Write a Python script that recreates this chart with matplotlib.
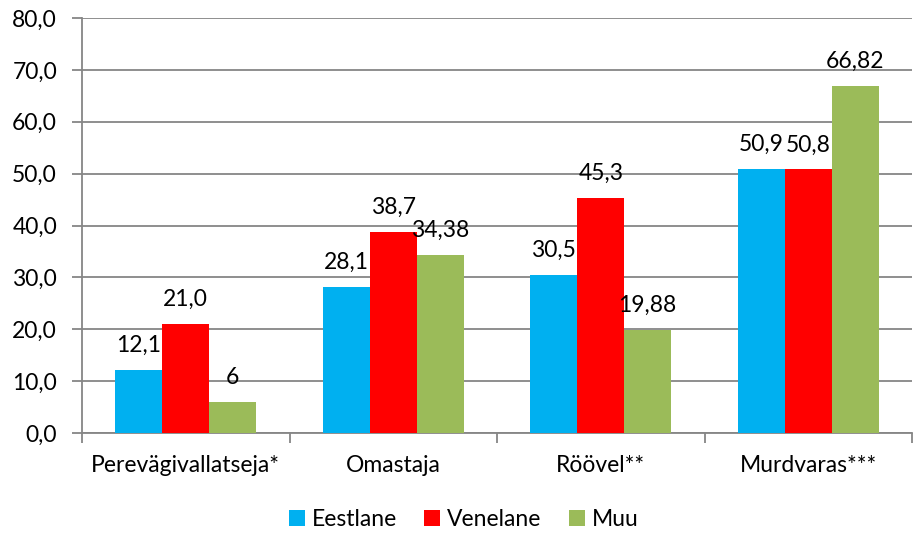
import matplotlib
matplotlib.use("Agg")
import matplotlib.pyplot as plt
import numpy as np

plt.rcParams['font.family'] = ['Lato', 'DejaVu Sans']

categories = ["Perevägivallatseja*", "Omastaja", "Röövel**", "Murdvaras***"]
series = ["Eestlane", "Venelane", "Muu"]
eestlane = [12.1, 28.1, 30.5, 50.9]
venelane = [21.0, 38.7, 45.3, 50.8]
muu = [6, 34.38, 19.88, 66.82]
eestlane_lbl = ["12,1", "28,1", "30,5", "50,9"]
venelane_lbl = ["21,0", "38,7", "45,3", "50,8"]
muu_lbl = ["6", "34,38", "19,88", "66,82"]
colors = ["#00B0F0", "#FF0000", "#9BBB59"]
yticks = np.arange(0, 81, 10)

fs = 16.5

fig = plt.figure(figsize=(9.13, 5.35), dpi=100)
ax = fig.add_axes([82 / 913, 102 / 535, 830 / 913, 415 / 535])

x = np.arange(len(categories))
w = 0.226
data = [eestlane, venelane, muu]
labels = [eestlane_lbl, venelane_lbl, muu_lbl]
for k, (vals, lbls) in enumerate(zip(data, labels)):
    pos = x + (k - 1) * w
    ax.bar(pos, vals, w, color=colors[k], label=series[k], zorder=3)
    for p, v, t in zip(pos, vals, lbls):
        ax.annotate(t, (p, v), xytext=(0, 13), textcoords="offset points",
                    ha="center", va="baseline", fontsize=fs, color="#000000")

ax.set_xlim(-0.5, 3.5)
ax.set_ylim(0, 80)
ax.set_yticks(yticks)
ax.set_yticklabels([f"{v:.1f}".replace(".", ",") for v in yticks])
ax.set_xticks(x)
ax.set_xticklabels(categories)
ax.set_xticks(np.arange(-0.5, 3.6, 1), minor=True)
ax.tick_params(axis="x", which="major", length=0, pad=16, labelsize=fs)
ax.tick_params(axis="x", which="minor", length=7, width=1.3, color="#868686", direction="out")
ax.tick_params(axis="y", length=7, width=1.3, color="#868686", labelsize=fs, pad=11)

ax.grid(axis="y", color="#868686", linewidth=1.3, zorder=0)
for s in ["top", "right"]:
    ax.spines[s].set_visible(False)
for s in ["left", "bottom"]:
    ax.spines[s].set_color("#868686")
    ax.spines[s].set_linewidth(1.3)

ax.legend(loc="lower center", bbox_to_anchor=(0.46, -0.255), ncol=3, frameon=False,
          fontsize=fs, handlelength=0.7, handleheight=0.7, handletextpad=0.3,
          columnspacing=1.2, borderaxespad=0.0)

fig.savefig("out.png", dpi=100)
